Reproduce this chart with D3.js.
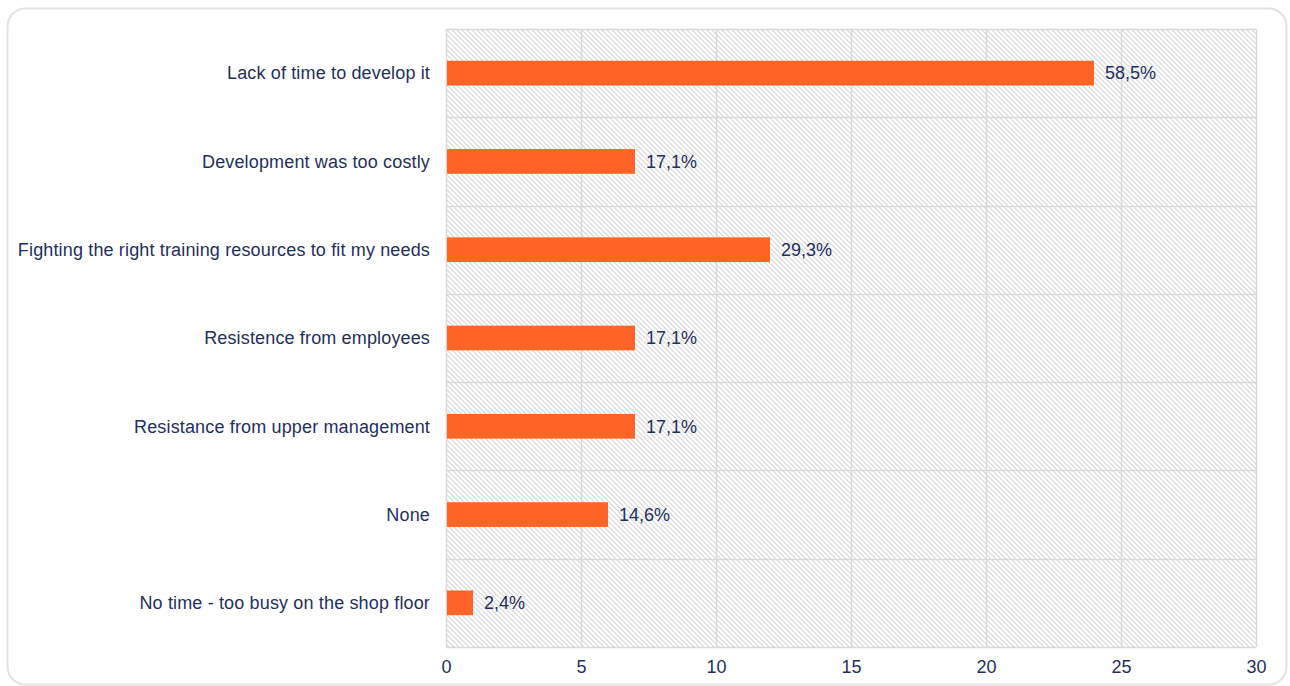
<!DOCTYPE html>
<html>
<head>
<meta charset="utf-8">
<script src="https://cdn.jsdelivr.net/npm/d3@7/dist/d3.min.js"></script>
<style>
  html, body { margin: 0; padding: 0; background: #ffffff; }
  svg { display: block; }
  text { font-family: "Liberation Sans", Arial, sans-serif; fill: #1f2f5e; }
</style>
</head>
<body>
<svg id="chart" width="1290" height="686"></svg>
<script>
// Survey responses: obstacles to developing training
const categories = [
  "Lack of time to develop it",
  "Development was too costly",
  "Fighting the right training resources to fit my needs",
  "Resistence from employees",
  "Resistance from upper management",
  "None",
  "No time - too busy on the shop floor"
];
const counts = [24, 7, 12, 7, 7, 6, 1];
const percentLabels = ["58,5%", "17,1%", "29,3%", "17,1%", "17,1%", "14,6%", "2,4%"];
const xTicks = [0, 5, 10, 15, 20, 25, 30];

const svg = d3.select("#chart");
const W = 1290, H = 686;
const margin = { top: 29, right: 34, bottom: 39, left: 446 };
const plotW = W - margin.left - margin.right;
const plotH = H - margin.top - margin.bottom;
const FS = 18;

// outer rounded frame
svg.append("rect")
  .attr("x", 7.5).attr("y", 8.5)
  .attr("width", 1279).attr("height", 676)
  .attr("rx", 18).attr("ry", 18)
  .attr("fill", "#ffffff")
  .attr("stroke", "#e3e3e3")
  .attr("stroke-width", 2);

// diagonal hatch fill for the plot area
const defs = svg.append("defs");
const pat = defs.append("pattern")
  .attr("id", "hatch")
  .attr("patternUnits", "userSpaceOnUse")
  .attr("width", 5).attr("height", 5);
pat.append("rect").attr("width", 5).attr("height", 5).attr("fill", "#ffffff");
pat.append("path")
  .attr("d", "M-1,-1 L6,6 M-1,4 L1,6 M4,-1 L6,1")
  .attr("stroke", "#d6d6d6")
  .attr("stroke-width", 1.1);

const g = svg.append("g").attr("transform", `translate(${margin.left},${margin.top})`);

const x = d3.scaleLinear().domain([0, 30]).range([0, plotW]);
const y = d3.scaleBand().domain(categories).range([0, plotH]).paddingInner(0.72).paddingOuter(0.36);
const band = d3.scaleBand().domain(categories).range([0, plotH]);

g.append("rect")
  .attr("width", plotW).attr("height", plotH)
  .attr("fill", "url(#hatch)");

// vertical gridlines
g.selectAll(".vgrid").data(xTicks).join("line")
  .attr("x1", d => Math.round(x(d)) + 0.5).attr("x2", d => Math.round(x(d)) + 0.5)
  .attr("y1", 0).attr("y2", plotH)
  .attr("stroke", "#d9d9d9").attr("stroke-width", 1.5);

// horizontal band separators
const bounds = categories.map(c => band(c)).concat([plotH]);
g.selectAll(".hgrid").data(bounds).join("line")
  .attr("x1", 0).attr("x2", plotW)
  .attr("y1", d => Math.round(d) + 0.5).attr("y2", d => Math.round(d) + 0.5)
  .attr("stroke", "#d9d9d9").attr("stroke-width", 1.5);

// bars
g.selectAll(".bar").data(categories).join("rect")
  .attr("x", x(0) + 1)
  .attr("y", c => y(c))
  .attr("width", (c, i) => x(counts[i]) - x(0) - 1)
  .attr("height", y.bandwidth())
  .attr("fill", "#ff6427");

// value labels
g.selectAll(".val").data(categories).join("text")
  .attr("x", (c, i) => x(counts[i]) + 11)
  .attr("y", c => y(c) + y.bandwidth() / 2)
  .attr("dy", "0.35em")
  .attr("font-size", FS)
  .text((c, i) => percentLabels[i]);

// category labels
g.selectAll(".cat").data(categories).join("text")
  .attr("x", -16)
  .attr("y", c => y(c) + y.bandwidth() / 2)
  .attr("dy", "0.35em")
  .attr("text-anchor", "end")
  .attr("font-size", FS)
  .attr("letter-spacing", 0.15)
  .text(c => c);

// x axis
const xAxis = d3.axisBottom(x).tickValues(xTicks).tickSize(0).tickPadding(13);
const ax = g.append("g").attr("transform", `translate(0,${plotH})`).call(xAxis);
ax.select(".domain").remove();
ax.selectAll("text")
  .attr("font-size", FS)
  .style("font-family", '"Liberation Sans", Arial, sans-serif')
  .attr("fill", "#1f2f5e");
</script>
</body>
</html>
